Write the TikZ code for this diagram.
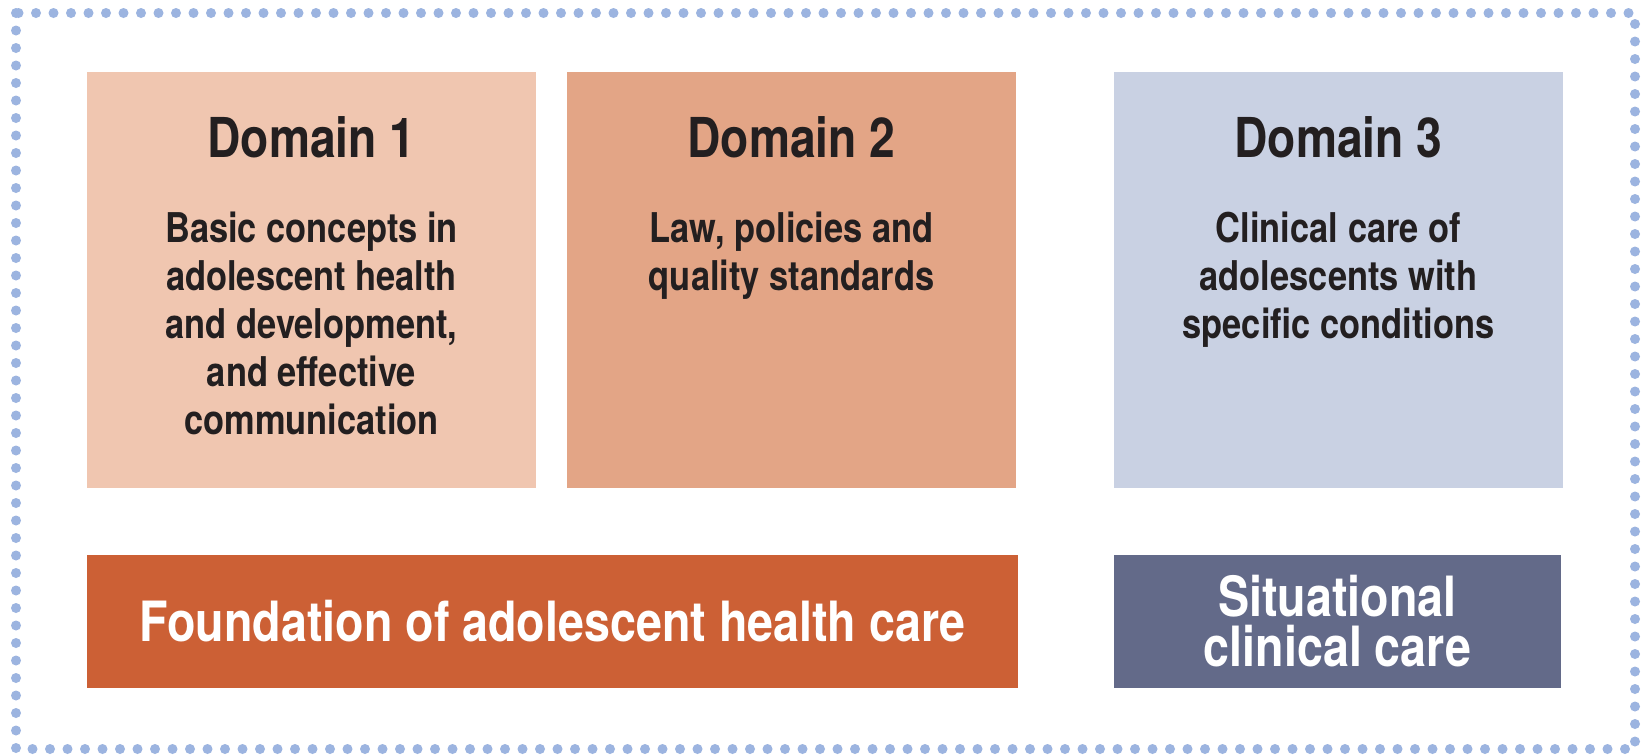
\documentclass[tikz,border=0pt]{standalone}
\usepackage{fontspec}
\setmainfont{TeX Gyre Heros}[FakeStretch=0.84]
\usetikzlibrary{positioning}

\definecolor{domone}{HTML}{F0C6B0}
\definecolor{domtwo}{HTML}{E3A586}
\definecolor{domthree}{HTML}{C9D1E3}
\definecolor{foundcol}{HTML}{CC6035}
\definecolor{situcol}{HTML}{636A89}
\definecolor{dotcol}{HTML}{9CB4E0}
\definecolor{inkcol}{HTML}{231F20}

\tikzset{
	frame/.style={draw=dotcol, line width=10pt, line cap=round, dash pattern=on 0pt off 17.5pt},
	dombox/.style={anchor=north west, minimum width=449pt, minimum height=416pt, inner sep=0pt, outer sep=0pt},
	domtitle/.style={text=inkcol, inner sep=0pt, font=\bfseries\fontsize{55}{60}\selectfont},
	dombody/.style={anchor=north, text=inkcol, inner sep=0pt, align=center, font=\bfseries\fontsize{41}{48}\selectfont},
	barbox/.style={anchor=north west, minimum height=133pt, inner sep=0pt, outer sep=0pt, text=white, align=center, font=\bfseries\fontsize{55.5}{50}\selectfont}
}

\begin{document}
\begin{tikzpicture}[x=1pt, y=-1pt]
	\useasboundingbox [fill=white] (0,0) rectangle (1642,755);
	\draw [frame] (16,13) rectangle (1635,749);

	% the three domains
	\node [dombox, fill=domone] (d1) at (87,72) {};
	\node [dombox, fill=domtwo] (d2) at (567,72) {};
	\node [dombox, fill=domthree] (d3) at (1114,72) {};
	\node [domtitle] (t1) at ([yshift=-65pt]d1.north) {Domain 1};
	\node [domtitle] (t2) at ([yshift=-65pt]d2.north) {Domain 2};
	\node [domtitle] (t3) at ([yshift=-65pt]d3.north) {Domain 3};
	\node [dombody] (b1) at ([yshift=-140pt]d1.north) {Basic concepts in\\adolescent health\\and development,\\and effective\\communication};
	\node [dombody] (b2) at ([yshift=-140pt]d2.north) {Law, policies and\\quality standards};
	\node [dombody] (b3) at ([yshift=-140pt]d3.north) {Clinical care of\\adolescents with\\specific conditions};

	% bars underneath
	\node [barbox, fill=foundcol, minimum width=931pt] (found) at (87,555) {Foundation of adolescent health care};
	\node [barbox, fill=situcol, minimum width=447pt] (situ) at (1114,555) {Situational\\clinical care};
\end{tikzpicture}
\end{document}
